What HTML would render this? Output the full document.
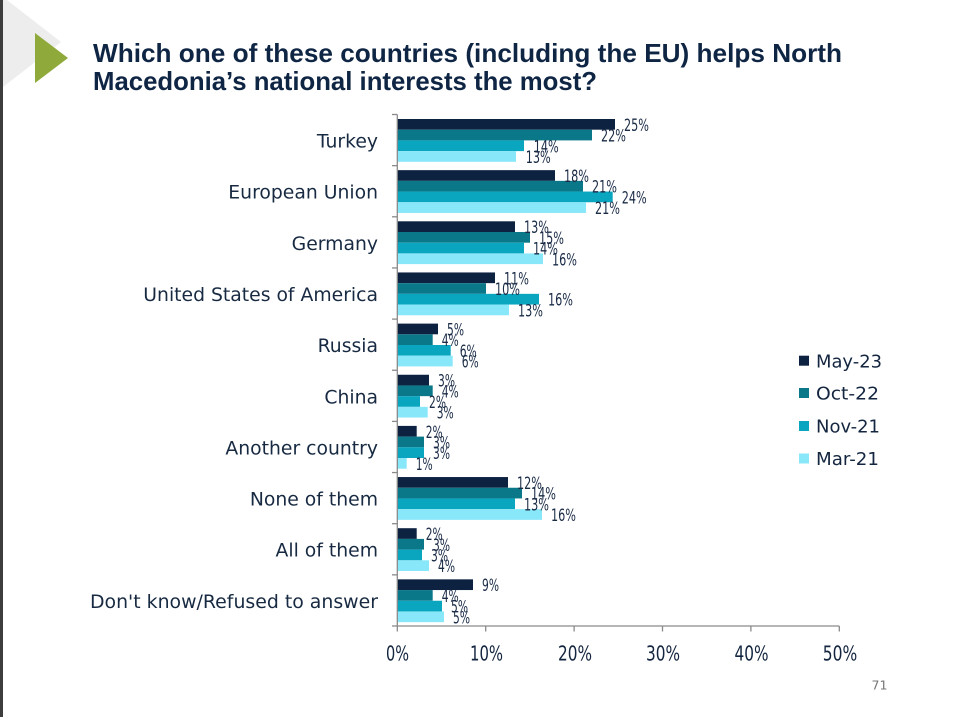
<!DOCTYPE html>
<html><head><meta charset="utf-8"><style>
html,body{margin:0;padding:0;background:#fff;}
svg{display:block;}
.cat{font-family:"DejaVu Sans","Liberation Sans",sans-serif;font-size:18.8px;fill:#172a42;text-anchor:end;}
.v{font-family:"DejaVu Sans","Liberation Sans",sans-serif;font-size:17px;fill:#1a2b46;}
.ax{font-family:"DejaVu Sans","Liberation Sans",sans-serif;font-size:20px;fill:#13253f;}
.lg{font-family:"DejaVu Sans","Liberation Sans",sans-serif;font-size:17.5px;fill:#13253f;}
.tt{font-family:"Liberation Sans","DejaVu Sans",sans-serif;font-size:26px;font-weight:bold;fill:#0f2544;}
</style></head><body>
<svg width="961" height="717" viewBox="0 0 961 717" xmlns="http://www.w3.org/2000/svg">
<rect width="961" height="717" fill="#fff"/>
<polygon points="3,-3 61,42 3,87" fill="#ededed"/>
<rect x="0" y="0" width="3" height="717" fill="#3d3d3d"/>
<polygon points="35,33 68,58 35,83" fill="#8faa3b"/>
<text class="tt" x="93" y="62" textLength="749" lengthAdjust="spacingAndGlyphs">Which one of these countries (including the EU) helps North</text>
<text class="tt" x="93" y="90" textLength="504" lengthAdjust="spacingAndGlyphs">Macedonia’s national interests the most?</text>

<!-- bars -->
<g>
<!-- Turkey -->
<rect x="397.3" y="119" width="217.7" height="10.7" fill="#0c2240"/>
<rect x="397.3" y="129.7" width="194.7" height="10.7" fill="#0b7889"/>
<rect x="397.3" y="140.4" width="126.7" height="10.7" fill="#0aa5bf"/>
<rect x="397.3" y="151.1" width="118.7" height="10.7" fill="#88e7f8"/>
<!-- EU -->
<rect x="397.3" y="170.15" width="157.7" height="10.7" fill="#0c2240"/>
<rect x="397.3" y="180.85" width="185.7" height="10.7" fill="#0b7889"/>
<rect x="397.3" y="191.55" width="215.4" height="10.7" fill="#0aa5bf"/>
<rect x="397.3" y="202.25" width="188.7" height="10.7" fill="#88e7f8"/>
<!-- Germany -->
<rect x="397.3" y="221.3" width="117.7" height="10.7" fill="#0c2240"/>
<rect x="397.3" y="232" width="132.7" height="10.7" fill="#0b7889"/>
<rect x="397.3" y="242.7" width="126.7" height="10.7" fill="#0aa5bf"/>
<rect x="397.3" y="253.4" width="145.7" height="10.7" fill="#88e7f8"/>
<!-- USA -->
<rect x="397.3" y="272.45" width="97.7" height="10.7" fill="#0c2240"/>
<rect x="397.3" y="283.15" width="88.7" height="10.7" fill="#0b7889"/>
<rect x="397.3" y="293.85" width="141.7" height="10.7" fill="#0aa5bf"/>
<rect x="397.3" y="304.55" width="111.7" height="10.7" fill="#88e7f8"/>
<!-- Russia -->
<rect x="397.3" y="323.6" width="40.7" height="10.7" fill="#0c2240"/>
<rect x="397.3" y="334.3" width="35.4" height="10.7" fill="#0b7889"/>
<rect x="397.3" y="345" width="53.4" height="10.7" fill="#0aa5bf"/>
<rect x="397.3" y="355.7" width="55.4" height="10.7" fill="#88e7f8"/>
<!-- China -->
<rect x="397.3" y="374.75" width="31.7" height="10.7" fill="#0c2240"/>
<rect x="397.3" y="385.45" width="35.4" height="10.7" fill="#0b7889"/>
<rect x="397.3" y="396.15" width="22.7" height="10.7" fill="#0aa5bf"/>
<rect x="397.3" y="406.85" width="30.4" height="10.7" fill="#88e7f8"/>
<!-- Another -->
<rect x="397.3" y="425.9" width="19.4" height="10.7" fill="#0c2240"/>
<rect x="397.3" y="436.6" width="26.7" height="10.7" fill="#0b7889"/>
<rect x="397.3" y="447.3" width="26.7" height="10.7" fill="#0aa5bf"/>
<rect x="397.3" y="458" width="9.4" height="10.7" fill="#88e7f8"/>
<!-- None -->
<rect x="397.3" y="477.05" width="110.7" height="10.7" fill="#0c2240"/>
<rect x="397.3" y="487.75" width="124.7" height="10.7" fill="#0b7889"/>
<rect x="397.3" y="498.45" width="117.7" height="10.7" fill="#0aa5bf"/>
<rect x="397.3" y="509.15" width="144.7" height="10.7" fill="#88e7f8"/>
<!-- All -->
<rect x="397.3" y="528.2" width="19.4" height="10.7" fill="#0c2240"/>
<rect x="397.3" y="538.9" width="26.7" height="10.7" fill="#0b7889"/>
<rect x="397.3" y="549.6" width="24.7" height="10.7" fill="#0aa5bf"/>
<rect x="397.3" y="560.3" width="31.7" height="10.7" fill="#88e7f8"/>
<!-- DK -->
<rect x="397.3" y="579.35" width="75.7" height="10.7" fill="#0c2240"/>
<rect x="397.3" y="590.05" width="35.4" height="10.7" fill="#0b7889"/>
<rect x="397.3" y="600.75" width="44.7" height="10.7" fill="#0aa5bf"/>
<rect x="397.3" y="611.45" width="46.7" height="10.7" fill="#88e7f8"/>
</g>

<!-- axes -->
<g stroke="#8a8a8a" stroke-width="1.3" fill="none">
<line x1="397.3" y1="114.5" x2="397.3" y2="626"/>
<line x1="397.3" y1="626" x2="839.3" y2="626"/>
<line x1="392" y1="114.5" x2="397.3" y2="114.5"/>
<line x1="392" y1="165.65" x2="397.3" y2="165.65"/>
<line x1="392" y1="216.8" x2="397.3" y2="216.8"/>
<line x1="392" y1="267.95" x2="397.3" y2="267.95"/>
<line x1="392" y1="319.1" x2="397.3" y2="319.1"/>
<line x1="392" y1="370.25" x2="397.3" y2="370.25"/>
<line x1="392" y1="421.4" x2="397.3" y2="421.4"/>
<line x1="392" y1="472.55" x2="397.3" y2="472.55"/>
<line x1="392" y1="523.7" x2="397.3" y2="523.7"/>
<line x1="392" y1="574.85" x2="397.3" y2="574.85"/>
<line x1="392" y1="626" x2="397.3" y2="626"/>
<line x1="397.3" y1="626" x2="397.3" y2="631.5"/>
<line x1="485.7" y1="626" x2="485.7" y2="631.5"/>
<line x1="574.1" y1="626" x2="574.1" y2="631.5"/>
<line x1="662.5" y1="626" x2="662.5" y2="631.5"/>
<line x1="750.9" y1="626" x2="750.9" y2="631.5"/>
<line x1="839.3" y1="626" x2="839.3" y2="631.5"/>
</g>

<!-- category labels -->
<text class="cat" x="378" y="147.5">Turkey</text>
<text class="cat" x="378" y="198.65">European Union</text>
<text class="cat" x="378" y="249.8">Germany</text>
<text class="cat" x="378" y="300.95">United States of America</text>
<text class="cat" x="378" y="352.1">Russia</text>
<text class="cat" x="378" y="403.25">China</text>
<text class="cat" x="378" y="454.4">Another country</text>
<text class="cat" x="378" y="505.55">None of them</text>
<text class="cat" x="378" y="556.7">All of them</text>
<text class="cat" x="378" y="607.85" textLength="288" lengthAdjust="spacingAndGlyphs">Don't know/Refused to answer</text>

<!-- value labels -->
<g>
<text class="v" x="624" y="130.85" textLength="25" lengthAdjust="spacingAndGlyphs">25%</text>
<text class="v" x="601" y="141.55" textLength="25" lengthAdjust="spacingAndGlyphs">22%</text>
<text class="v" x="533.7" y="152.25" textLength="25" lengthAdjust="spacingAndGlyphs">14%</text>
<text class="v" x="525.7" y="162.95" textLength="25" lengthAdjust="spacingAndGlyphs">13%</text>

<text class="v" x="564" y="182" textLength="25" lengthAdjust="spacingAndGlyphs">18%</text>
<text class="v" x="592" y="192.7" textLength="25" lengthAdjust="spacingAndGlyphs">21%</text>
<text class="v" x="621.7" y="203.4" textLength="25" lengthAdjust="spacingAndGlyphs">24%</text>
<text class="v" x="595" y="214.1" textLength="25" lengthAdjust="spacingAndGlyphs">21%</text>

<text class="v" x="524" y="233.15" textLength="25" lengthAdjust="spacingAndGlyphs">13%</text>
<text class="v" x="539" y="243.85" textLength="25" lengthAdjust="spacingAndGlyphs">15%</text>
<text class="v" x="533" y="254.55" textLength="25" lengthAdjust="spacingAndGlyphs">14%</text>
<text class="v" x="552" y="265.25" textLength="25" lengthAdjust="spacingAndGlyphs">16%</text>

<text class="v" x="504" y="284.3" textLength="25" lengthAdjust="spacingAndGlyphs">11%</text>
<text class="v" x="495" y="295" textLength="25" lengthAdjust="spacingAndGlyphs">10%</text>
<text class="v" x="548" y="305.7" textLength="25" lengthAdjust="spacingAndGlyphs">16%</text>
<text class="v" x="518" y="316.4" textLength="25" lengthAdjust="spacingAndGlyphs">13%</text>

<text class="v" x="447" y="335.45" textLength="17" lengthAdjust="spacingAndGlyphs">5%</text>
<text class="v" x="441.7" y="346.15" textLength="17" lengthAdjust="spacingAndGlyphs">4%</text>
<text class="v" x="459.7" y="356.85" textLength="17" lengthAdjust="spacingAndGlyphs">6%</text>
<text class="v" x="461.7" y="367.55" textLength="17" lengthAdjust="spacingAndGlyphs">6%</text>

<text class="v" x="438" y="386.6" textLength="17" lengthAdjust="spacingAndGlyphs">3%</text>
<text class="v" x="441.7" y="397.3" textLength="17" lengthAdjust="spacingAndGlyphs">4%</text>
<text class="v" x="429" y="408" textLength="17" lengthAdjust="spacingAndGlyphs">2%</text>
<text class="v" x="436.7" y="418.7" textLength="17" lengthAdjust="spacingAndGlyphs">3%</text>

<text class="v" x="425.7" y="437.75" textLength="17" lengthAdjust="spacingAndGlyphs">2%</text>
<text class="v" x="433" y="448.45" textLength="17" lengthAdjust="spacingAndGlyphs">3%</text>
<text class="v" x="433" y="459.15" textLength="17" lengthAdjust="spacingAndGlyphs">3%</text>
<text class="v" x="415.7" y="469.85" textLength="17" lengthAdjust="spacingAndGlyphs">1%</text>

<text class="v" x="517" y="488.9" textLength="25" lengthAdjust="spacingAndGlyphs">12%</text>
<text class="v" x="531" y="499.6" textLength="25" lengthAdjust="spacingAndGlyphs">14%</text>
<text class="v" x="524" y="510.3" textLength="25" lengthAdjust="spacingAndGlyphs">13%</text>
<text class="v" x="551" y="521" textLength="25" lengthAdjust="spacingAndGlyphs">16%</text>

<text class="v" x="425.7" y="540.05" textLength="17" lengthAdjust="spacingAndGlyphs">2%</text>
<text class="v" x="433" y="550.75" textLength="17" lengthAdjust="spacingAndGlyphs">3%</text>
<text class="v" x="431" y="561.45" textLength="17" lengthAdjust="spacingAndGlyphs">3%</text>
<text class="v" x="438" y="572.15" textLength="17" lengthAdjust="spacingAndGlyphs">4%</text>

<text class="v" x="482" y="591.2" textLength="17" lengthAdjust="spacingAndGlyphs">9%</text>
<text class="v" x="441.7" y="601.9" textLength="17" lengthAdjust="spacingAndGlyphs">4%</text>
<text class="v" x="451" y="612.6" textLength="17" lengthAdjust="spacingAndGlyphs">5%</text>
<text class="v" x="453" y="623.3" textLength="17" lengthAdjust="spacingAndGlyphs">5%</text>
</g>

<!-- x axis labels -->
<text class="ax" x="386" y="660.5" textLength="23" lengthAdjust="spacingAndGlyphs">0%</text>
<text class="ax" x="470" y="660.5" textLength="33" lengthAdjust="spacingAndGlyphs">10%</text>
<text class="ax" x="558" y="660.5" textLength="34" lengthAdjust="spacingAndGlyphs">20%</text>
<text class="ax" x="646" y="660.5" textLength="34" lengthAdjust="spacingAndGlyphs">30%</text>
<text class="ax" x="734.5" y="660.5" textLength="34" lengthAdjust="spacingAndGlyphs">40%</text>
<text class="ax" x="822.7" y="660.5" textLength="34.5" lengthAdjust="spacingAndGlyphs">50%</text>

<!-- legend -->
<rect x="799" y="355.7" width="10" height="10" fill="#0c2240"/>
<text class="lg" x="816" y="367.3" textLength="66" lengthAdjust="spacingAndGlyphs">May-23</text>
<rect x="799" y="388" width="10" height="10" fill="#0b7889"/>
<text class="lg" x="816" y="399.5" textLength="63" lengthAdjust="spacingAndGlyphs">Oct-22</text>
<rect x="799" y="421" width="10" height="10" fill="#0aa5bf"/>
<text class="lg" x="816" y="432.5" textLength="64" lengthAdjust="spacingAndGlyphs">Nov-21</text>
<rect x="799" y="453.5" width="10" height="10" fill="#88e7f8"/>
<text class="lg" x="816" y="465" textLength="63" lengthAdjust="spacingAndGlyphs">Mar-21</text>

<text x="871.5" y="689.5" font-family="DejaVu Sans, Liberation Sans, sans-serif" font-size="12.5" fill="#777" textLength="16" lengthAdjust="spacingAndGlyphs">71</text>
</svg>
</body></html>
